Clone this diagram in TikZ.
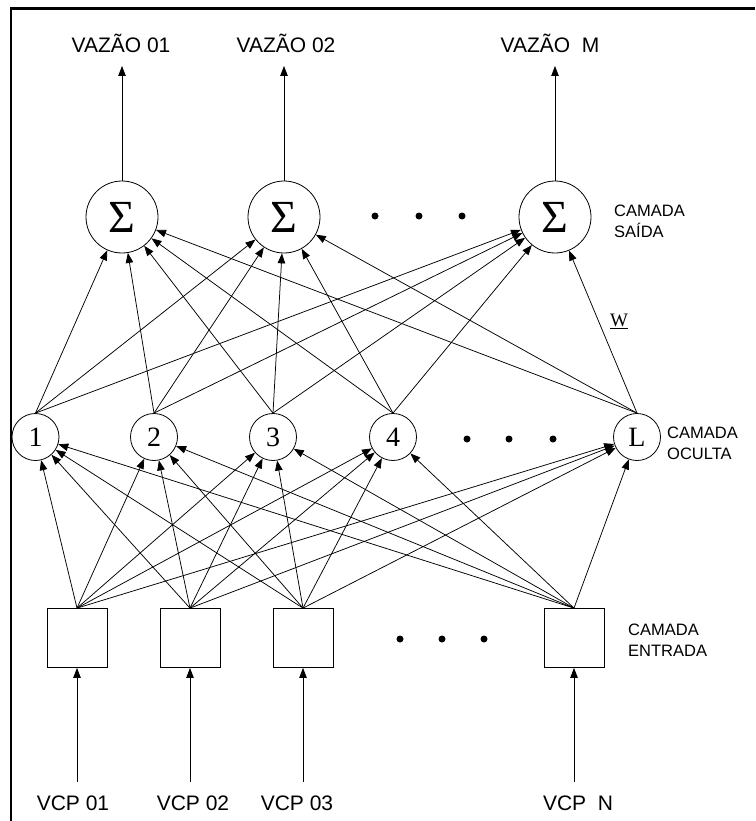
\documentclass[tikz,border=0pt]{standalone}
\usepackage{fontspec}
\setmainfont{Liberation Sans}
\newfontfamily\seriffam{Liberation Serif}
\usetikzlibrary{arrows.meta}
\begin{document}
\begin{tikzpicture}[x=1pt,y=-1pt,
  conn/.style={line width=0.75pt, -{Triangle[length=10pt,width=7.5pt]}},
  outnode/.style={circle, draw, line width=0.8pt, minimum size=72pt, inner sep=0pt, font=\seriffam\fontsize{46}{46}\selectfont},
  hidnode/.style={circle, draw, line width=0.8pt, minimum size=47pt, inner sep=0pt, font=\seriffam\fontsize{28}{28}\selectfont},
  innode/.style={draw, line width=0.8pt, minimum width=60pt, minimum height=59pt, inner sep=0pt},
  lbl/.style={font=\fontsize{21}{24}\selectfont, inner sep=0pt},
  side/.style={font=\fontsize{16.5}{21}\selectfont, align=left, anchor=west, inner sep=0pt},
  dotnode/.style={circle, fill, inner sep=0pt, minimum size=7pt}]
\useasboundingbox (0,0) rectangle (755,821);
\draw[line width=2.5pt] (11,821) -- (11,8.5) -- (755,8.5);
% output layer
\node[outnode] (o1) at (122,217) {Σ};
\node[outnode] (o2) at (284,217) {Σ};
\node[outnode] (o3) at (555,217) {Σ};
\node[dotnode] (od1) at (375,216) {};
\node[dotnode] (od2) at (419,216) {};
\node[dotnode] (od3) at (462,216) {};
\node[side] (ls) at (614,221.5) {CAMADA\\SAÍDA};
\node[lbl] (v1) at (121,43) {VAZÃO 01};
\node[lbl] (v2) at (286,43) {VAZÃO 02};
\node[lbl] (v3) at (550,43) {VAZÃO\ \ M};
\coordinate (t1) at (122,66);
\coordinate (t2) at (284,66);
\coordinate (t3) at (555,66);
\draw[conn] (o1) -- (t1);
\draw[conn] (o2) -- (t2);
\draw[conn] (o3) -- (t3);
% hidden layer
\node[hidnode] (h1) at (35.5,437) {1};
\node[hidnode] (h2) at (154,437) {2};
\node[hidnode] (h3) at (273,437) {3};
\node[hidnode] (h4) at (393,437) {4};
\node[hidnode] (h5) at (637,437) {L};
\node[dotnode] (hd1) at (467,439) {};
\node[dotnode] (hd2) at (509,439) {};
\node[dotnode] (hd3) at (553,439) {};
\node[side] (lh) at (667,443.5) {CAMADA\\OCULTA};
\node[font=\seriffam\fontsize{19}{19}\selectfont, inner sep=0pt] (w) at (619,321) {\underline{W}};
% input layer
\node[innode] (i1) at (77,638) {};
\node[innode] (i2) at (190,638) {};
\node[innode] (i3) at (303,638) {};
\node[innode] (i4) at (574,638) {};
\node[dotnode] (id1) at (400,639) {};
\node[dotnode] (id2) at (442,639) {};
\node[dotnode] (id3) at (484,639) {};
\node[side] (li) at (628,640.5) {CAMADA\\ENTRADA};
\node[lbl] (c1) at (73,803) {VCP 01};
\node[lbl] (c2) at (193,803) {VCP 02};
\node[lbl] (c3) at (297,803) {VCP 03};
\node[lbl] (c4) at (578,803) {VCP\ \ N};
\coordinate (b1) at (77,782);
\coordinate (b2) at (190,782);
\coordinate (b3) at (303,782);
\coordinate (b4) at (574,782);
\draw[conn] (b1) -- (i1);
\draw[conn] (b2) -- (i2);
\draw[conn] (b3) -- (i3);
\draw[conn] (b4) -- (i4);
% connections
\foreach \h in {h1,h2,h3,h4,h5}
  \foreach \o in {o1,o2,o3}
    \draw[conn] (\h.north) -- (\o);
\foreach \i in {i1,i2,i3,i4}
  \foreach \h in {h1,h2,h3,h4,h5}
    \draw[conn] (\i.north) -- (\h);
\end{tikzpicture}
\end{document}
